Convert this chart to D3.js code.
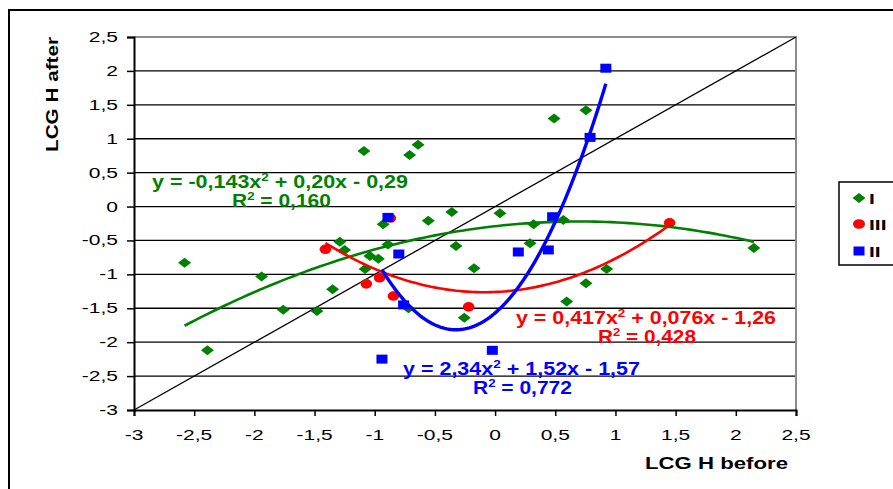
<!DOCTYPE html>
<html><head><meta charset="utf-8">
<script src="https://cdn.jsdelivr.net/npm/d3@7"></script>
<style>body{margin:0;background:#fff}svg{display:block}text{font-family:"Liberation Sans",Arial,sans-serif}</style>
</head><body>
<svg id="c" width="893" height="489"></svg>
<script>
// ---- data ----
const xTicks = [-3,-2.5,-2,-1.5,-1,-0.5,0,0.5,1,1.5,2,2.5];
const yTicks = [-3,-2.5,-2,-1.5,-1,-0.5,0,0.5,1,1.5,2,2.5];
const seriesNames = ["I","III","II"];
const colors = ["#008000","#ff0000","#0000ff"];
const groupI_x = [-2.58,-2.39,-1.94,-1.76,-1.48,-1.35,-1.29,-1.25,-1.09,-1.08,-1.04,-0.97,-0.93,-0.89,-0.72,-0.71,-0.64,-0.555,-0.36,-0.325,-0.256,-0.175,0.04,0.29,0.32,0.49,0.567,0.595,0.755,0.755,0.927,2.15];
const groupI_y = [-0.83,-2.12,-1.03,-1.52,-1.54,-1.22,-0.52,-0.64,0.82,-0.92,-0.73,-0.77,-0.26,-0.56,-1.50,0.76,0.91,-0.21,-0.08,-0.58,-1.64,-0.91,-0.10,-0.54,-0.26,1.30,-0.20,-1.40,1.42,-1.13,-0.92,-0.61];
const groupIII_x = [-1.41,-1.07,-0.96,-0.87,-0.845,-0.22,1.45];
const groupIII_y = [-0.63,-1.14,-1.05,-0.17,-1.32,-1.48,-0.24];
const groupII_x = [-0.94,-0.89,-0.80,-0.76,-0.023,0.193,0.442,0.478,0.789,0.92];
const groupII_y = [-2.25,-0.16,-0.70,-1.45,-2.12,-0.67,-0.64,-0.15,1.02,2.04];
// trendline coefficients [a,b,c] for a x^2 + b x + c (as printed on chart)
const trendI = [-0.143,0.20,-0.29];
const trendIII = [0.417,0.076,-1.26];
const trendII = [2.34,1.52,-1.57];
const eqI = ["y = -0,143x","2"," + 0,20x - 0,29"], r2I = "0,160";
const eqIII = ["y = 0,417x","2"," + 0,076x - 1,26"], r2III = "0,428";
const eqII = ["y = 2,34x","2"," + 1,52x - 1,57"], r2II = "0,772";

const svg = d3.select("#c");
const x = d3.scaleLinear().domain([-3,2.5]).range([134,796]);
const y = d3.scaleLinear().domain([-3,2.5]).range([410,37]);
const fmt = v => String(v).replace(".",",");

// outer frame
svg.append("path").attr("d","M9,489 V10 H893").attr("fill","none").attr("stroke","#000").attr("stroke-width",2);

// gridlines
svg.append("g").selectAll("line").data(yTicks.filter(v=>v>-3 && v<2.5)).join("line")
  .attr("x1",x(-3)).attr("x2",x(2.5)).attr("y1",d=>y(d)).attr("y2",d=>y(d))
  .attr("stroke","#000").attr("stroke-width",1.3);
// plot border top/right gray
svg.append("path").attr("d",`M${x(-3)},${y(2.5)} H${x(2.5)} V${y(-3)}`).attr("fill","none").attr("stroke","#8c8c8c").attr("stroke-width",2);

// axes
const xAxis = d3.axisBottom(x).tickValues(xTicks).tickSize(6).tickFormat("");
const yAxis = d3.axisLeft(y).tickValues(yTicks).tickSize(7).tickFormat("");
const gx = svg.append("g").attr("transform",`translate(0,${y(-3)})`).call(xAxis);
const gy = svg.append("g").attr("transform",`translate(${x(-3)},0)`).call(yAxis);
[gx,gy].forEach(g=>{g.select(".domain").attr("stroke","#000").attr("stroke-width",2);g.selectAll(".tick line").attr("stroke","#000").attr("stroke-width",1.5);});

function sText(px,py,str,opts){
  const g = svg.append("g").attr("transform",`translate(${px},${py}) scale(${opts.sx||1.5},1)`);
  const t = g.append("text").attr("text-anchor",opts.anchor||"middle").attr("font-size",opts.size||14)
    .attr("font-weight",opts.weight||"normal").attr("fill",opts.fill||"#000").text(str);
  return t;
}
xTicks.forEach(v=>sText(x(v),440,fmt(v),{size:14}));
yTicks.forEach(v=>sText(118,y(v)+5,fmt(v),{size:14,anchor:"end"}));

// diagonal y = x
svg.append("line").attr("x1",x(-3)).attr("y1",y(-3)).attr("x2",x(2.5)).attr("y2",y(2.5)).attr("stroke","#000").attr("stroke-width",1.3);

// markers
const sets = [[groupI_x,groupI_y],[groupIII_x,groupIII_y],[groupII_x,groupII_y]];
const pts = sets.map(([xs,ys])=>xs.map((v,i)=>({x:v,y:ys[i]})));
svg.append("g").selectAll("path").data(pts[0]).join("path")
  .attr("d",d=>`M${x(d.x)-6.5},${y(d.y)} L${x(d.x)},${y(d.y)-5} L${x(d.x)+6.5},${y(d.y)} L${x(d.x)},${y(d.y)+5}Z`).attr("fill",colors[0]);
svg.append("g").selectAll("ellipse").data(pts[1]).join("ellipse")
  .attr("cx",d=>x(d.x)).attr("cy",d=>y(d.y)).attr("rx",5.8).attr("ry",4.8).attr("fill",colors[1]);
svg.append("g").selectAll("rect").data(pts[2]).join("rect")
  .attr("x",d=>x(d.x)-5.5).attr("y",d=>y(d.y)-4.5).attr("width",11).attr("height",9).attr("fill",colors[2]);

// trendlines
const trends = [trendI,trendIII,trendII];
const widths = [2.6,2.6,3.4];
trends.forEach((c,k)=>{
  const xs = sets[k][0];
  const lo = d3.min(xs), hi = d3.max(xs);
  const samples = d3.range(0,101).map(i=>lo+(hi-lo)*i/100);
  const line = d3.line().x(v=>x(v)).y(v=>y(c[0]*v*v+c[1]*v+c[2]));
  svg.append("path").attr("d",line(samples)).attr("fill","none").attr("stroke",colors[k]).attr("stroke-width",widths[k]).attr("stroke-linejoin","round");
});

// equations
function eq(parts,xl,xr,base,color){
  const t = svg.append("text").attr("x",xl).attr("y",base).attr("font-size",17.5).attr("font-weight","bold").attr("fill",color)
    .attr("textLength",xr-xl).attr("lengthAdjust","spacingAndGlyphs");
  t.append("tspan").text(parts[0]);
  t.append("tspan").attr("font-size",11).attr("dy",-7).text(parts[1]);
  t.append("tspan").attr("dy",7).text(parts[2]);
}
function r2(val,xl,xr,base,color){
  const t = svg.append("text").attr("x",xl).attr("y",base).attr("font-size",17.5).attr("font-weight","bold").attr("fill",color)
    .attr("textLength",xr-xl).attr("lengthAdjust","spacingAndGlyphs");
  t.append("tspan").text("R");
  t.append("tspan").attr("font-size",11).attr("dy",-7).text("2");
  t.append("tspan").attr("dy",7).text(" = "+val);
}
eq(eqI,152,408,188,colors[0]); r2(r2I,232,331,207,colors[0]);
eq(eqIII,516,776,324,colors[1]); r2(r2III,598,696,343,colors[1]);
eq(eqII,403,640,375,colors[2]); r2(r2II,473,572,394,colors[2]);

// axis titles
svg.append("text").attr("x",645).attr("y",469).attr("font-size",17).attr("font-weight","bold")
  .attr("textLength",143).attr("lengthAdjust","spacingAndGlyphs").text("LCG H before");
svg.append("text").attr("transform","translate(58,152) rotate(-90)").attr("font-size",17).attr("font-weight","bold")
  .attr("textLength",115).attr("lengthAdjust","spacingAndGlyphs").text("LCG H after");

// legend
svg.append("rect").attr("x",839).attr("y",182).attr("width",80).attr("height",83).attr("fill","#fff").attr("stroke","#000").attr("stroke-width",1.5);
const ly = [198,224,251];
svg.append("path").attr("d",`M852.5,${ly[0]} L859,${ly[0]-5} L865.5,${ly[0]} L859,${ly[0]+5}Z`).attr("fill",colors[0]);
svg.append("ellipse").attr("cx",859).attr("cy",ly[1]).attr("rx",6).attr("ry",4.8).attr("fill",colors[1]);
svg.append("rect").attr("x",853.5).attr("y",ly[2]-4.5).attr("width",11).attr("height",9).attr("fill",colors[2]);
seriesNames.forEach((n,i)=>sText(869,ly[i]+6,n,{size:15,weight:"bold",anchor:"start",sx:1.4}));
</script>
</body></html>
